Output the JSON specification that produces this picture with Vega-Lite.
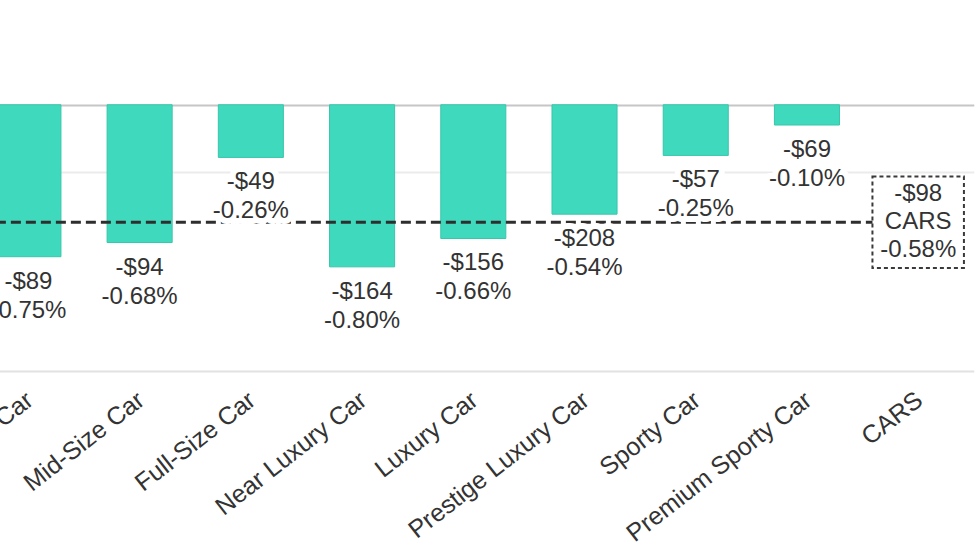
{
  "$schema": "https://vega.github.io/schema/vega-lite/v6.json",
  "width": 1001,
  "height": 371,
  "autosize": {"type": "none"},
  "padding": {"left": -27.2, "top": 0, "right": 6.2, "bottom": 181},
  "background": "white",
  "config": {
    "view": {"stroke": null},
    "font": "Liberation Sans",
    "locale": {"number": {"decimal": ".", "thousands": ",", "grouping": [3], "currency": ["$", ""], "minus": "-"}}
  },
  "data": {
    "values": [
      {"cat": "Compact Car", "usd": -89, "pct": -0.0075},
      {"cat": "Mid-Size Car", "usd": -94, "pct": -0.0068},
      {"cat": "Full-Size Car", "usd": -49, "pct": -0.0026},
      {"cat": "Near Luxury Car", "usd": -164, "pct": -0.0080},
      {"cat": "Luxury Car", "usd": -156, "pct": -0.0066},
      {"cat": "Prestige Luxury Car", "usd": -208, "pct": -0.0054},
      {"cat": "Sporty Car", "usd": -57, "pct": -0.0025},
      {"cat": "Premium Sporty Car", "usd": -69, "pct": -0.0010},
      {"cat": "CARS", "usd": -98, "pct": -0.0058}
    ]
  },
  "encoding": {
    "x": {
      "field": "cat", "type": "nominal", "sort": null,
      "scale": {"paddingInner": 0.415, "paddingOuter": 0.2075},
      "axis": {
        "title": null, "labelAngle": -38, "labelAlign": "right", "labelBaseline": "top",
        "labelFontSize": 25, "labelColor": "#333333", "labelPadding": 16, "labelOffset": -6, "ticks": false,
        "domainColor": "#e2e2e2", "domainWidth": 2, "grid": false, "labelOverlap": false, "labelLimit": 0
      }
    },
    "y": {
      "field": "pct", "type": "quantitative",
      "scale": {"domain": [-0.01314, 0.00517], "nice": false, "zero": false},
      "axis": {
        "values": [0, -0.00334], "labels": false, "ticks": false, "domain": false, "title": null, "grid": true,
        "gridColor": {"condition": {"test": "datum.value === 0", "value": "#c6c6c6"}, "value": "#ebebeb"},
        "gridWidth": 2
      }
    }
  },
  "layer": [
    {
      "transform": [{"filter": "datum.cat !== 'CARS'"}],
      "mark": {"type": "bar", "color": "#3fd9bd", "stroke": "#38c6aa", "strokeWidth": 1}
    },
    {
      "transform": [{"filter": "datum.cat === 'CARS'"}],
      "mark": {"type": "rule", "color": "#2e2e2e", "strokeWidth": 3, "strokeDash": [10, 5]},
      "encoding": {"x": {"datum": "Compact Car", "bandPosition": 0}, "x2": {"field": "cat"}}
    },
    {
      "transform": [{"filter": "datum.cat !== 'CARS'"}],
      "mark": {"type": "text", "dy": 32, "fontSize": 24, "fill": "white", "stroke": "white", "strokeWidth": 12, "strokeJoin": "round", "baseline": "alphabetic"},
      "encoding": {"text": {"field": "usd", "format": "$.0f"}}
    },
    {
      "transform": [{"filter": "datum.cat !== 'CARS'"}],
      "mark": {"type": "text", "dy": 61, "fontSize": 24, "fill": "white", "stroke": "white", "strokeWidth": 12, "strokeJoin": "round", "baseline": "alphabetic"},
      "encoding": {"text": {"field": "pct", "format": ".2%"}}
    },
    {
      "transform": [{"filter": "datum.cat !== 'CARS'"}],
      "mark": {"type": "text", "dy": 32, "fontSize": 24, "color": "#333333", "baseline": "alphabetic"},
      "encoding": {"text": {"field": "usd", "format": "$.0f"}}
    },
    {
      "transform": [{"filter": "datum.cat !== 'CARS'"}],
      "mark": {"type": "text", "dy": 61, "fontSize": 24, "color": "#333333", "baseline": "alphabetic"},
      "encoding": {"text": {"field": "pct", "format": ".2%"}}
    },
    {
      "transform": [{"filter": "datum.cat === 'CARS'"}],
      "mark": {"type": "point", "shape": "square", "size": 8370, "fill": "white", "fillOpacity": 1, "stroke": "#3a3a3a", "strokeWidth": 2, "strokeDash": [4, 3], "opacity": 1}
    },
    {
      "transform": [{"filter": "datum.cat === 'CARS'"}],
      "mark": {"type": "text", "dy": -21, "fontSize": 24, "color": "#333333", "baseline": "alphabetic"},
      "encoding": {"text": {"field": "usd", "format": "$.0f"}}
    },
    {
      "transform": [{"filter": "datum.cat === 'CARS'"}],
      "mark": {"type": "text", "dy": 7, "fontSize": 24, "color": "#333333", "baseline": "alphabetic"},
      "encoding": {"text": {"field": "cat"}}
    },
    {
      "transform": [{"filter": "datum.cat === 'CARS'"}],
      "mark": {"type": "text", "dy": 35, "fontSize": 24, "color": "#333333", "baseline": "alphabetic"},
      "encoding": {"text": {"field": "pct", "format": ".2%"}}
    }
  ]
}
